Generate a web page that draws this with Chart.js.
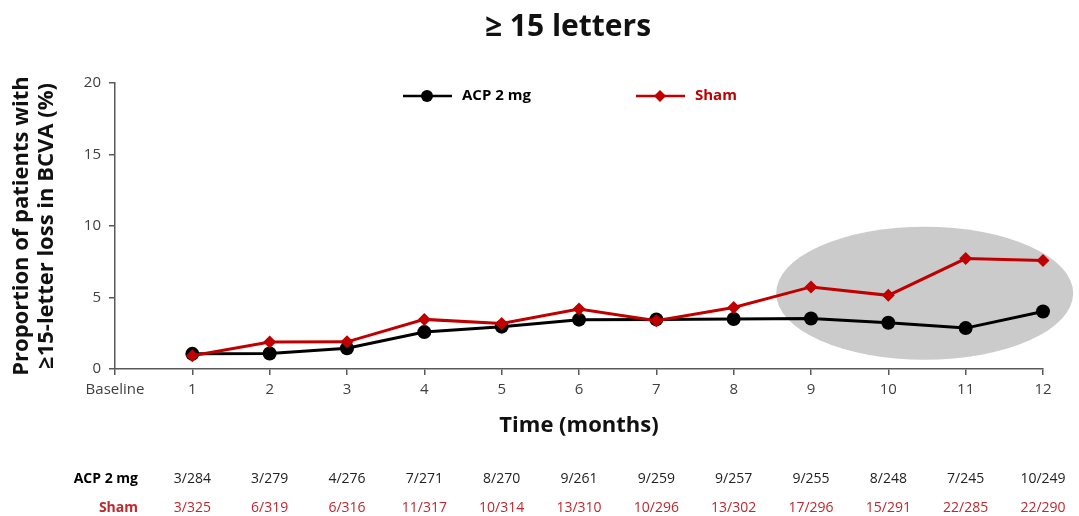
<!DOCTYPE html>
<html>
<head>
<meta charset="utf-8">
<script src="https://cdn.jsdelivr.net/npm/chart.js@4.4.1/dist/chart.umd.min.js"></script>
<style>
  html, body { margin: 0; padding: 0; background: #fff; }
  #wrap { width: 1079px; height: 516px; position: relative; }
</style>
</head>
<body>
<div id="wrap"><canvas id="chart" width="1079" height="516"></canvas></div>
<script>
// Categories and series
const categories = ['Baseline', '1', '2', '3', '4', '5', '6', '7', '8', '9', '10', '11', '12'];
const acpValues = [null, 1.06, 1.08, 1.45, 2.58, 2.96, 3.45, 3.47, 3.50, 3.53, 3.23, 2.86, 4.02];
const shamValues = [null, 0.92, 1.88, 1.90, 3.47, 3.18, 4.19, 3.38, 4.30, 5.74, 5.15, 7.72, 7.59];
const yTicks = [0, 5, 10, 15, 20];

// Patient counts shown under the chart (month 1 to 12)
const acpCounts = ['3/284', '3/279', '4/276', '7/271', '8/270', '9/261', '9/259', '9/257', '9/255', '8/248', '7/245', '10/249'];
const shamCounts = ['3/325', '6/319', '6/316', '11/317', '10/314', '13/310', '10/296', '13/302', '17/296', '15/291', '22/285', '22/290'];

const seriesNames = ['ACP 2 mg', 'Sham'];
const chartTitle = '≥ 15 letters';

const FONT = '"Open Sans", "DejaVu Sans", sans-serif';
const BLACK = '#000000';
const RED = '#C00000';
const RED_TEXT = '#C0282D';
const AXIS = '#595959';
const TICK_TEXT = '#404040';

// Grey ellipse around months 9-12
const highlightPlugin = {
    id: 'highlight',
    beforeDatasetsDraw(chart) {
        const { ctx, scales: { x, y } } = chart;
        const cx = x.getPixelForValue(10.47);
        const cy = y.getPixelForValue(5.3);
        const rx = x.getPixelForValue(10.47 + 1.92) - cx;
        const ry = cy - y.getPixelForValue(5.3 + 4.65);
        ctx.save();
        ctx.fillStyle = '#cbcbcb';
        ctx.beginPath();
        ctx.ellipse(cx, cy, rx, ry, 0, 0, Math.PI * 2);
        ctx.fill();
        ctx.restore();
    }
};

// Title, legend inside the plot and count table below the axis
const extrasPlugin = {
    id: 'extras',
    afterDraw(chart) {
        const { ctx, scales: { x } } = chart;
        ctx.save();

        ctx.fillStyle = '#111111';
        ctx.font = 'bold 30px ' + FONT;
        ctx.textAlign = 'center';
        ctx.textBaseline = 'middle';
        ctx.fillText(chartTitle, 568, 27);

        // legend
        const drawItem = (x0, label, color, marker) => {
            const ly = 96;
            ctx.strokeStyle = color;
            ctx.lineWidth = 2.5;
            ctx.beginPath();
            ctx.moveTo(x0, ly);
            ctx.lineTo(x0 + 49, ly);
            ctx.stroke();
            ctx.fillStyle = color;
            ctx.beginPath();
            if (marker === 'circle') {
                ctx.arc(x0 + 24, ly, 6, 0, Math.PI * 2);
            } else {
                ctx.moveTo(x0 + 24, ly - 6);
                ctx.lineTo(x0 + 30, ly);
                ctx.lineTo(x0 + 24, ly + 6);
                ctx.lineTo(x0 + 18, ly);
                ctx.closePath();
            }
            ctx.fill();
            ctx.font = 'bold 15px ' + FONT;
            ctx.textBaseline = 'middle';
            ctx.textAlign = 'left';
            ctx.fillText(label, x0 + 59, ly);
        };
        drawItem(403, seriesNames[0], BLACK, 'circle');
        drawItem(636, seriesNames[1], RED, 'diamond');

        // count table
        ctx.textBaseline = 'middle';
        ctx.font = 'bold 14px ' + FONT;
        ctx.textAlign = 'right';
        ctx.fillStyle = BLACK;
        ctx.fillText(seriesNames[0], 138, 479);
        ctx.fillStyle = RED_TEXT;
        ctx.fillText(seriesNames[1], 138, 508);
        ctx.font = '14px ' + FONT;
        ctx.textAlign = 'center';
        acpCounts.forEach((t, i) => {
            ctx.fillStyle = '#222222';
            ctx.fillText(t, x.getPixelForValue(i + 1), 479);
        });
        shamCounts.forEach((t, i) => {
            ctx.fillStyle = RED_TEXT;
            ctx.fillText(t, x.getPixelForValue(i + 1), 508);
        });
        ctx.restore();
    }
};

new Chart(document.getElementById('chart'), {
    type: 'line',
    data: {
        labels: categories,
        datasets: [
            {
                label: seriesNames[0],
                data: acpValues,
                borderColor: BLACK,
                backgroundColor: BLACK,
                borderWidth: 3,
                pointStyle: 'circle',
                pointRadius: 7,
                pointBorderWidth: 0,
                order: 2
            },
            {
                label: seriesNames[1],
                data: shamValues,
                borderColor: RED,
                backgroundColor: RED,
                borderWidth: 3,
                pointStyle: 'rectRot',
                pointRadius: 6.5,
                pointBorderWidth: 0,
                order: 1
            }
        ]
    },
    options: {
        responsive: false,
        animation: false,
        layout: { padding: { left: 10, right: 36, top: 83, bottom: 77 } },
        plugins: {
            legend: { display: false },
            tooltip: { enabled: false },
            title: { display: false }
        },
        scales: {
            x: {
                offset: false,
                border: { display: true, color: AXIS, width: 1.5 },
                grid: { display: true, drawOnChartArea: false, drawTicks: true, tickLength: 6, color: AXIS, lineWidth: 1.5 },
                ticks: { color: TICK_TEXT, font: { family: FONT, size: 15 }, padding: 6, maxRotation: 0, autoSkip: false },
                title: {
                    display: true,
                    text: 'Time (months)',
                    color: '#111111',
                    font: { family: FONT, size: 22, weight: 'bold' },
                    padding: { top: 4, bottom: 0 }
                },
                afterFit(axis) { axis.height = 70; }
            },
            y: {
                min: 0,
                max: 20,
                afterBuildTicks(axis) { axis.ticks = yTicks.map(v => ({ value: v })); },
                border: { display: true, color: AXIS, width: 1.5 },
                grid: { display: true, drawOnChartArea: false, drawTicks: true, tickLength: 6, color: AXIS, lineWidth: 1.5 },
                ticks: { color: TICK_TEXT, font: { family: FONT, size: 15 }, padding: 8 },
                title: {
                    display: true,
                    text: ['Proportion of patients with', '≥15-letter loss in BCVA (%)'],
                    color: '#111111',
                    font: { family: FONT, size: 22, weight: 'bold', lineHeight: 1.1 },
                    padding: { top: 0, bottom: 8 }
                },
                afterFit(axis) { axis.width = 105; }
            }
        }
    },
    plugins: [highlightPlugin, extrasPlugin]
});
</script>
</body>
</html>
